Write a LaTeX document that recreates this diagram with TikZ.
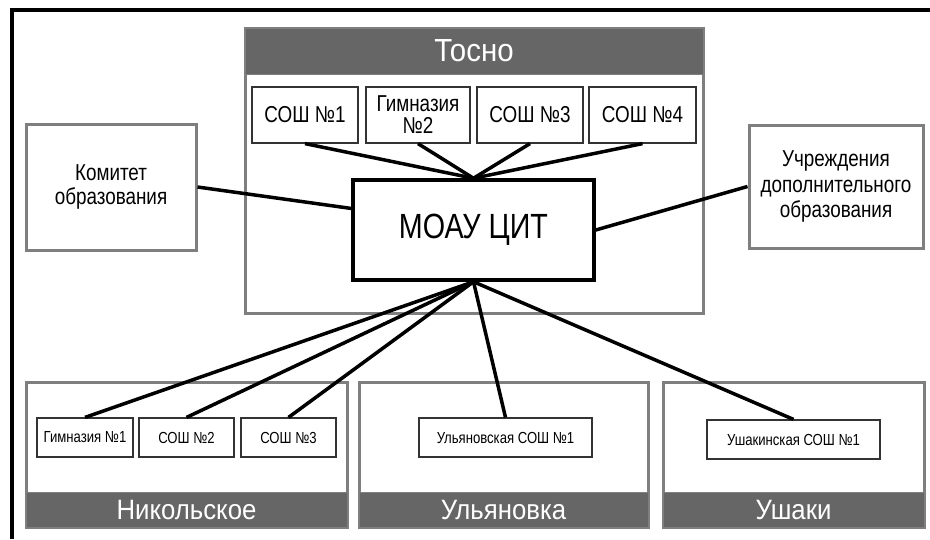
\documentclass[tikz,border=0pt]{standalone}
\usepackage{fontspec}
\setmainfont{Liberation Sans}[FakeStretch=0.82]
\newfontfamily\headfont{Liberation Sans}[FakeStretch=0.92]
\usetikzlibrary{positioning}
\definecolor{areagray}{HTML}{7F7F7F}
\definecolor{headgray}{HTML}{666666}
\tikzstyle{area} = [draw=areagray, line width=3pt, fill=white, inner sep=0pt]
\tikzstyle{headband} = [draw=areagray, line width=1pt, fill=headgray, text=white, inner sep=0pt, font=\headfont\fontsize{28}{30}\selectfont]
\tikzstyle{unit} = [draw=areagray, line width=3pt, fill=white, align=center, font=\fontsize{23}{24}\selectfont]
\tikzstyle{center} = [draw=black, line width=3.5pt, fill=white, font=\fontsize{35}{36}\selectfont]
\tikzstyle{school} = [draw=black!80, line width=1.2pt, fill=white, align=center, inner sep=1pt, font=\fontsize{23}{22}\selectfont]
\tikzstyle{smallschool} = [school, font=\fontsize{16}{16}\selectfont]
\tikzstyle{link} = [draw=black, line width=3.5pt]

\begin{document}
\begin{tikzpicture}[x=1pt, y=-1pt]
	\useasboundingbox (0,0) rectangle (930,539);
	\draw[line width=4pt] (12,539) -- (12,10) -- (930,10);
	% Тосно
	\node[area, minimum width=458, minimum height=285] (tosno) at (474,170.5) {};
	\node[headband, minimum width=458, minimum height=46, font=\headfont\fontsize{32}{34}\selectfont] (tosnohead) at (474,51) {Тосно};
	\node[school, minimum width=106, minimum height=56] (tsosh1) at (305,115) {СОШ №1};
	\node[school, minimum width=104, minimum height=56] (tgym2) at (418,115) {Гимназия\\№2};
	\node[school, minimum width=106, minimum height=56] (tsosh3) at (530,115) {СОШ №3};
	\node[school, minimum width=107, minimum height=56] (tsosh4) at (642.5,115) {СОШ №4};
	\node[center, minimum width=241, minimum height=100] (moau) at (473.5,230) {МОАУ ЦИТ};
	% side units
	\node[unit, minimum width=170, minimum height=126] (komitet) at (111,187) {Комитет\\образования};
	\node[unit, minimum width=174, minimum height=123, font=\fontsize{23}{25.5}\selectfont] (uchr) at (836,186.5) {Учреждения\\дополнительного\\образования};
	% Никольское
	\node[area, minimum width=321, minimum height=145] (nikol) at (186.5,454.5) {};
	\node[headband, minimum width=321, minimum height=35] (nikolhead) at (186.5,509.5) {Никольское};
	\node[smallschool, minimum width=96, minimum height=39] (ngym1) at (85,437.5) {Гимназия №1};
	\node[smallschool, minimum width=95, minimum height=39] (nsosh2) at (186.5,437.5) {СОШ №2};
	\node[smallschool, minimum width=95, minimum height=39] (nsosh3) at (288.5,437.5) {СОШ №3};
	% Ульяновка
	\node[area, minimum width=289, minimum height=145] (ulyan) at (503.5,454.5) {};
	\node[headband, minimum width=289, minimum height=35] (ulyanhead) at (503.5,509.5) {Ульяновка};
	\node[smallschool, minimum width=173, minimum height=39] (usosh1) at (505.5,437.5) {Ульяновская СОШ №1};
	% Ушаки
	\node[area, minimum width=261, minimum height=145] (ushaki) at (793.5,454.5) {};
	\node[headband, minimum width=261, minimum height=35] (ushakihead) at (793.5,509.5) {Ушаки};
	\node[smallschool, minimum width=173, minimum height=39] (ushsosh1) at (793.5,439.5) {Ушакинская СОШ №1};
	% links
	\foreach \s in {tsosh1, tgym2, tsosh3, tsosh4}
		\draw[link] (\s.south) -- (moau.north);
	\draw[link] (komitet.east) -- (moau.170);
	\draw[link] (uchr.west) -- (moau.east);
	\foreach \s in {ngym1, nsosh2, nsosh3, usosh1, ushsosh1}
		\draw[link] (moau.south) -- (\s.north);
\end{tikzpicture}
\end{document}
